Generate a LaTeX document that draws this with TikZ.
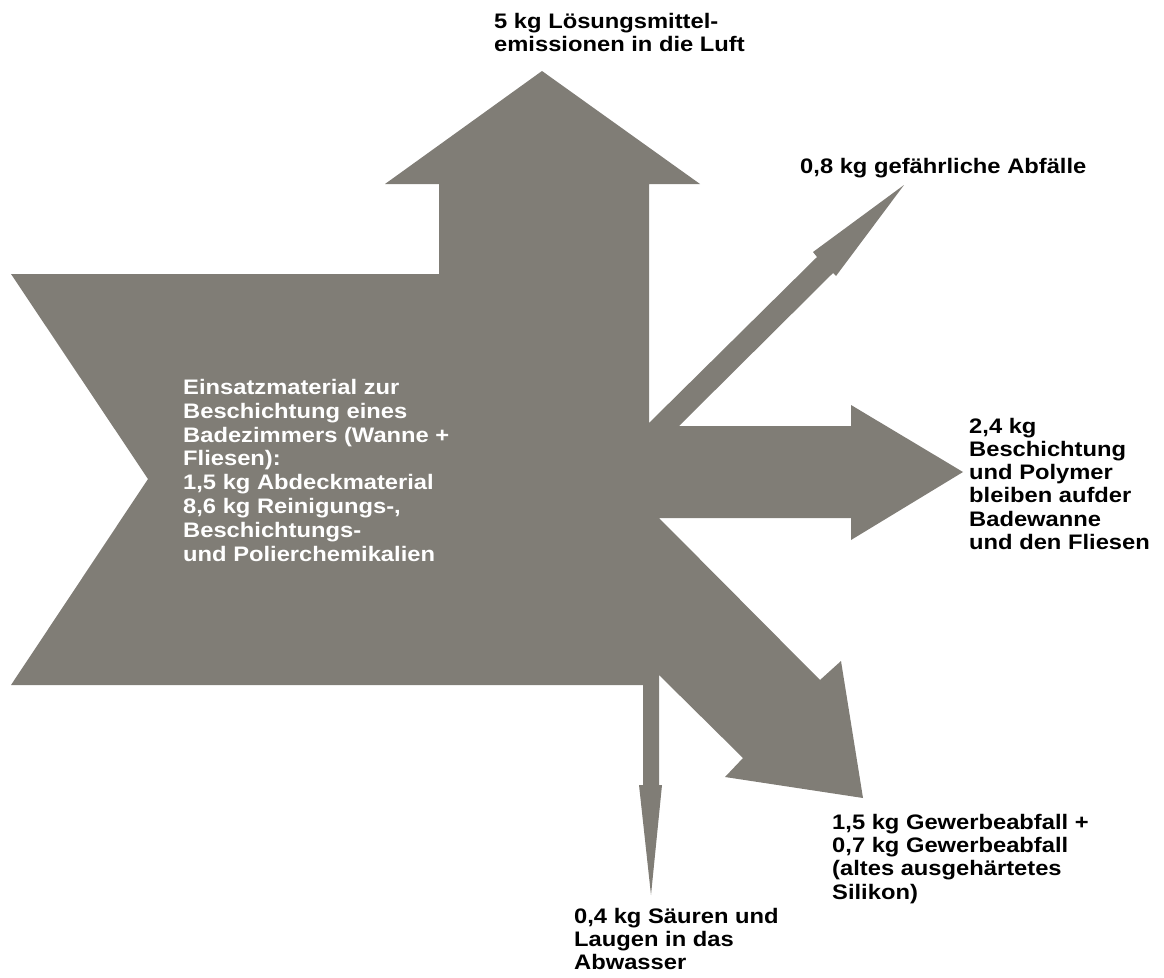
\documentclass[tikz,border=0pt]{standalone}
\usepackage{fontspec}
\setmainfont{Liberation Sans}[FakeStretch=1.13]
\definecolor{flowgrey}{RGB}{128,125,118}
\begin{document}
\begin{tikzpicture}[x=1pt,y=-1pt,
  % labels are placed by the baseline of their last line
  flowlabel/.style={anchor=base west, inner sep=0pt, align=left,
    font=\fontsize{21}{23.3}\selectfont\bfseries},
  inlabel/.style={flowlabel, text=white,
    font=\fontsize{21}{23.9}\selectfont\bfseries}]
\useasboundingbox (0,0) rectangle (1164,977);

% material flow: input block with its output arrows, as one shape
\fill[flowgrey]
  (11,274) -- (439,274)
  % upward arrow: solvent emissions
  -- (439,184) -- (385,184) -- (542,71) -- (700,184) -- (649,184)
  -- (649,423)
  % thin diagonal arrow: hazardous waste
  -- (817,257) -- (813,252) -- (904,185) -- (836,276) -- (833,273)
  -- (679,426)
  % right arrow: coating stays on the surfaces
  -- (851,426) -- (851,405) -- (963,472) -- (851,540) -- (851,518)
  -- (659,518)
  % wide diagonal arrow: commercial waste
  -- (820,680) -- (841,661) -- (863,798) -- (725,777) -- (743,758)
  -- (659,675)
  % thin downward arrow: waste water
  -- (659,785) -- (662,785) -- (651,895) -- (639,785) -- (643,785)
  -- (643,685)
  -- (11,685) -- (148,479) -- cycle;

\node[inlabel] (input) at (183,561.5)
  {Einsatzmaterial zur\\Beschichtung eines\\Badezimmers (Wanne +\\Fliesen):\\1,5 kg Abdeckmaterial\\8,6 kg Reinigungs-,\\Beschichtungs-\\und Polierchemikalien};
\node[flowlabel] (air) at (494,51.3)
  {5 kg Lösungsmittel-\\emissionen in die Luft};
\node[flowlabel] (hazard) at (800,173)
  {0,8 kg gefährliche Abfälle};
\node[flowlabel] (coat) at (969,549.5)
  {2,4 kg\\Beschichtung\\und Polymer\\bleiben aufder\\Badewanne\\und den Fliesen};
\node[flowlabel] (trade) at (832,899)
  {1,5 kg Gewerbeabfall +\\0,7 kg Gewerbeabfall\\(altes ausgehärtetes\\Silikon)};
\node[flowlabel] (water) at (574,969.6)
  {0,4 kg Säuren und\\Laugen in das\\Abwasser};
\end{tikzpicture}
\end{document}
